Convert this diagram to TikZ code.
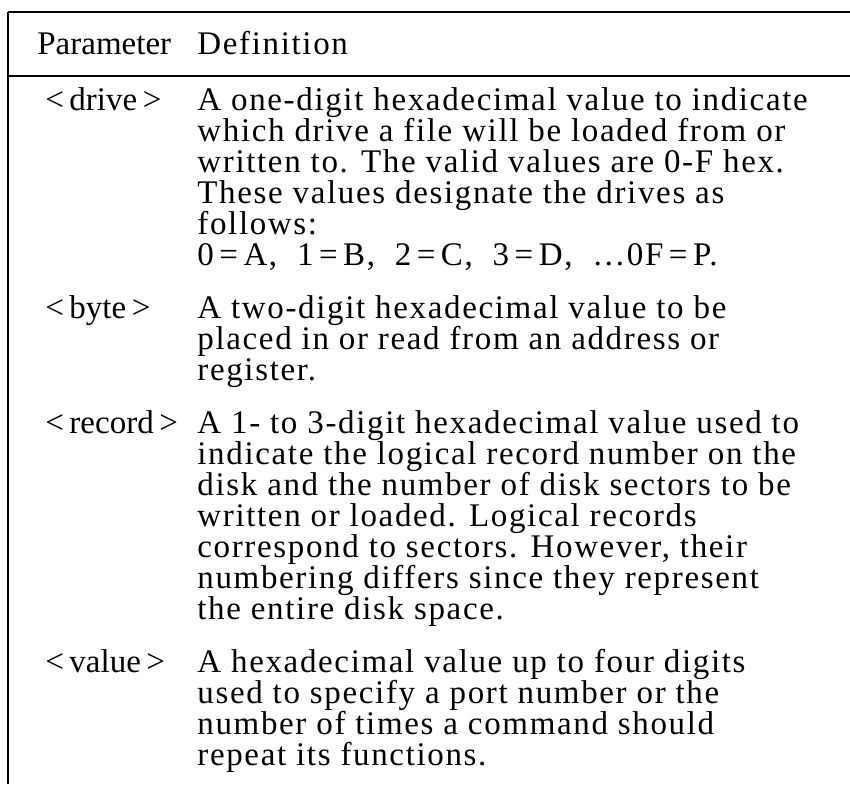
\documentclass[tikz,border=0pt]{standalone}
\usepackage{fontspec}
\setmainfont{Liberation Serif}
\newfontfamily\defnfont[LetterSpace=5]{Liberation Serif}
\begin{document}
\begin{tikzpicture}[x=0.5pt,y=-0.5pt,
  txt/.style={anchor=base west, inner sep=0pt, font=\fontsize{16.5}{18}\selectfont},
  dtxt/.style={anchor=base west, inner sep=0pt, font=\defnfont\fontsize{16.5}{18}\selectfont},
  rule/.style={line width=0.8pt}]
\useasboundingbox (0,0) rectangle (850,784);
\coordinate (tl) at (8,12);
\coordinate (tr) at (850,12);
\coordinate (ml) at (8,76);
\coordinate (mr) at (850,76);
\coordinate (bl) at (8,784);
\draw[rule] (tl) -- (tr);
\draw[rule] (ml) -- (mr);
\draw[rule] (tl) -- (bl);
% header
\node[txt] (hp) at (37,54) {Parameter};
\node[dtxt] (hd) at (197,54) {Definition};
% drive
\node[txt] (p1) at (45,110) {<\,drive\,>};
\node[dtxt] (d11) at (197,110) {A one-digit hexadecimal value to indicate};
\node[dtxt] (d12) at (197,141) {which drive a file will be loaded from or};
\node[dtxt] (d13) at (197,172) {written to. The valid values are 0-F hex.};
\node[dtxt] (d14) at (197,203) {These values designate the drives as};
\node[dtxt] (d15) at (197,234) {follows:};
\node[dtxt] (d16) at (197,265) {0\,=\,A, \ 1\,=\,B, \ 2\,=\,C, \ 3\,=\,D, \ \ldots0F\,=\,P.};
% byte
\node[txt] (p2) at (45,318) {<\,byte\,>};
\node[dtxt] (d21) at (197,318) {A two-digit hexadecimal value to be};
\node[dtxt] (d22) at (197,349) {placed in or read from an address or};
\node[dtxt] (d23) at (197,380) {register.};
% record
\node[txt] (p3) at (45,433) {<\,record\,>};
\node[dtxt] (d31) at (197,433) {A 1- to 3-digit hexadecimal value used to};
\node[dtxt] (d32) at (197,464) {indicate the logical record number on the};
\node[dtxt] (d33) at (197,495) {disk and the number of disk sectors to be};
\node[dtxt] (d34) at (197,526) {written or loaded. Logical records};
\node[dtxt] (d35) at (197,557) {correspond to sectors. However, their};
\node[dtxt] (d36) at (197,588) {numbering differs since they represent};
\node[dtxt] (d37) at (197,619) {the entire disk space.};
% value
\node[txt] (p4) at (45,672) {<\,value\,>};
\node[dtxt] (d41) at (197,672) {A hexadecimal value up to four digits};
\node[dtxt] (d42) at (197,703) {used to specify a port number or the};
\node[dtxt] (d43) at (197,734) {number of times a command should};
\node[dtxt] (d44) at (197,765) {repeat its functions.};
\end{tikzpicture}
\end{document}
